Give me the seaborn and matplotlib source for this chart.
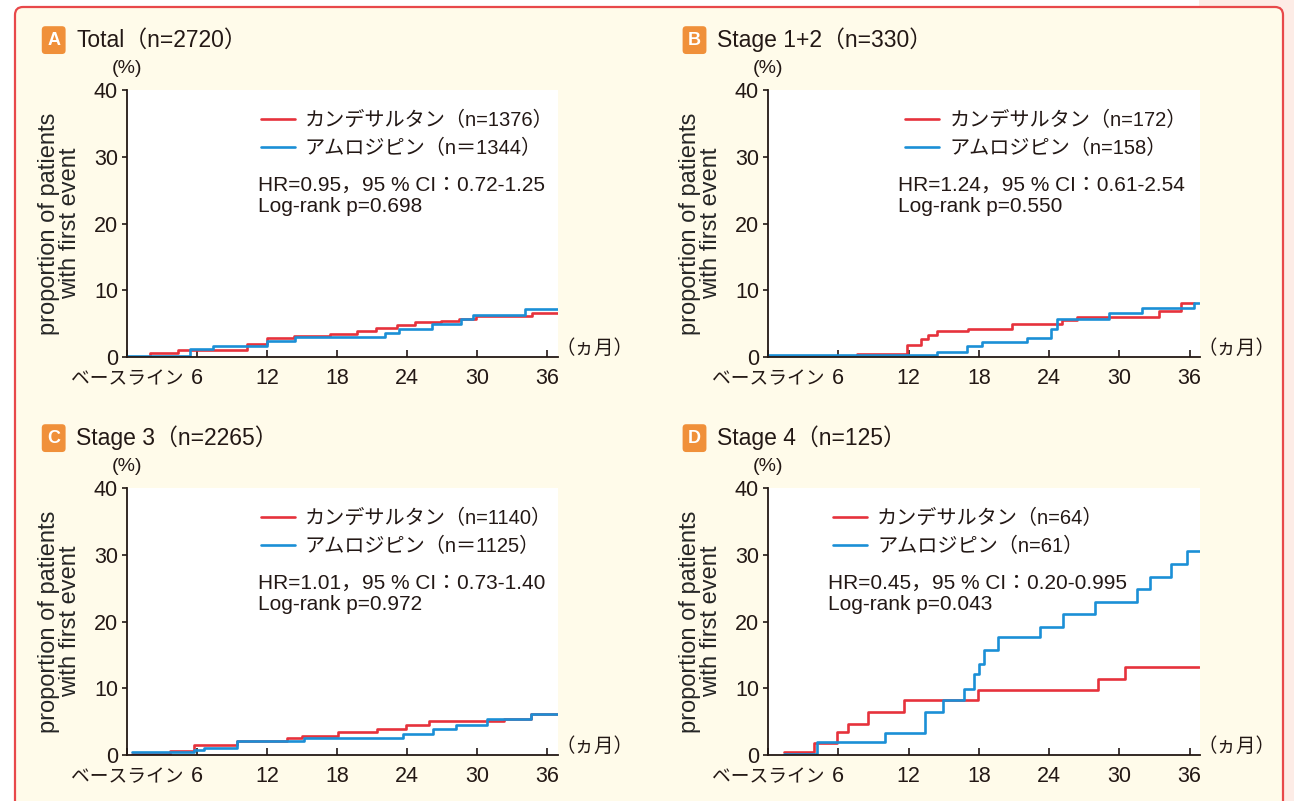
import pandas as pd
import matplotlib
matplotlib.use('Agg')
import matplotlib.pyplot as plt
from matplotlib.patches import FancyBboxPatch, Rectangle
from matplotlib.transforms import ScaledTranslation
import seaborn as sns

# cumulative incidence (%), months from baseline
a_cand_t = [0, 2.0, 4.4, 10.3, 12.0, 14.3, 17.4, 19.7, 21.3, 23.1, 24.7, 26.9, 28.4, 29.9, 34.7, 36.9]
a_cand_p = [0, 0.6, 1.1, 1.9, 2.8, 3.2, 3.5, 3.9, 4.3, 4.8, 5.2, 5.4, 5.7, 6.2, 6.6, 6.6]
a_amlo_t = [0, 5.4, 7.4, 12.0, 14.4, 22.1, 23.3, 26.1, 28.6, 29.6, 34.1, 36.9]
a_amlo_p = [0.1, 1.2, 1.6, 2.4, 3.0, 3.6, 4.2, 4.9, 5.7, 6.3, 7.2, 7.2]

b_cand_t = [0, 7.6, 11.9, 13.1, 13.7, 14.4, 17.1, 20.8, 25.1, 26.4, 33.4, 35.3, 36.4]
b_cand_p = [0, 0.5, 1.75, 2.75, 3.25, 3.9, 4.25, 4.95, 5.5, 6.0, 6.85, 8.15, 8.15]
b_amlo_t = [0, 14.4, 17.0, 18.3, 22.1, 24.2, 24.7, 29.1, 31.9, 36.4, 36.8]
b_amlo_p = [0.35, 0.75, 1.65, 2.25, 2.9, 4.25, 5.65, 6.6, 7.35, 8.15, 8.15]

c_cand_t = [0.4, 3.7, 5.7, 9.4, 13.7, 15.0, 18.1, 21.4, 23.9, 25.9, 32.3, 34.6, 36.9]
c_cand_p = [0.15, 0.65, 1.55, 2.1, 2.5, 2.9, 3.4, 3.95, 4.45, 5.1, 5.45, 6.2, 6.2]
c_amlo_t = [0.4, 5.7, 6.6, 9.4, 15.2, 23.6, 26.2, 28.2, 30.8, 34.6, 36.9]
c_amlo_p = [0.5, 0.75, 1.05, 2.1, 2.5, 3.2, 3.9, 4.5, 5.45, 6.2, 6.2]

d_cand_t = [1.4, 3.95, 5.9, 6.85, 8.5, 11.6, 17.9, 28.2, 30.5, 36.8]
d_cand_p = [0.4, 1.8, 3.4, 4.7, 6.5, 8.25, 9.75, 11.45, 13.25, 13.25]
d_amlo_t = [1.4, 4.2, 10.0, 13.4, 14.9, 16.7, 17.6, 18.0, 18.4, 19.6, 23.2, 25.2, 27.9, 31.5, 32.6, 34.4, 35.8, 36.9]
d_amlo_p = [0.1, 2.0, 3.3, 6.5, 8.25, 9.85, 12.1, 13.6, 15.7, 17.7, 19.2, 21.2, 23.0, 24.8, 26.6, 28.6, 30.6, 30.6]

letters = ['A', 'B', 'C', 'D']
titles = ['Total（n=2720）', 'Stage 1+2（n=330）', 'Stage 3（n=2265）', 'Stage 4（n=125）']
cand_labels = ['カンデサルタン（n=1376）', 'カンデサルタン（n=172）', 'カンデサルタン（n=1140）', 'カンデサルタン（n=64）']
amlo_labels = ['アムロジピン（n＝1344）', 'アムロジピン（n=158）', 'アムロジピン（n＝1125）', 'アムロジピン（n=61）']
stats = ['HR=0.95，95 % CI：0.72-1.25\nLog-rank p=0.698',
         'HR=1.24，95 % CI：0.61-2.54\nLog-rank p=0.550',
         'HR=1.01，95 % CI：0.73-1.40\nLog-rank p=0.972',
         'HR=0.45，95 % CI：0.20-0.995\nLog-rank p=0.043']
curves = [(a_cand_t, a_cand_p, a_amlo_t, a_amlo_p),
          (b_cand_t, b_cand_p, b_amlo_t, b_amlo_p),
          (c_cand_t, c_cand_p, c_amlo_t, c_amlo_p),
          (d_cand_t, d_cand_p, d_amlo_t, d_amlo_p)]
xticks = [0, 6, 12, 18, 24, 30, 36]
xticklabels = ['ベースライン', '6', '12', '18', '24', '30', '36']
yticks = [0, 10, 20, 30, 40]

RED = '#E6323C'
BLUE = '#1B8FD6'
ORANGE = '#F0903A'
INK = '#231815'

sns.set_style('ticks')
plt.rcParams['font.family'] = ['Liberation Sans', 'Noto Sans CJK JP']
plt.rcParams['text.color'] = INK

fig = plt.figure(figsize=(12.94, 8.01), dpi=100)
fig.patch.set_facecolor('white')
fig.patches.append(Rectangle((11.99, 0), 0.95, 8.01, transform=fig.dpi_scale_trans,
                             facecolor='#FDECE6', edgecolor='none', zorder=-3))
fig.patches.append(FancyBboxPatch((0.15, -0.3), 12.68, 8.24, transform=fig.dpi_scale_trans,
                                  boxstyle='round,pad=0,rounding_size=0.08',
                                  facecolor='#FFFBEA', edgecolor='#E8484A', linewidth=1.6, zorder=-2))

# axes boxes in figure fractions: left, bottom, width, height
positions = [(0.0981, 0.5543, 0.333, 0.3333), (0.5935, 0.5543, 0.334, 0.3333),
             (0.0981, 0.0574, 0.333, 0.3333), (0.5935, 0.0574, 0.334, 0.3333)]
legend_x = [0.31, 0.317, 0.31, 0.15]
stat_x = [0.304, 0.30, 0.304, 0.139]

for i in range(4):
    ax = fig.add_axes(positions[i])
    ct, cp, at, ap = curves[i]
    df = pd.concat([
        pd.DataFrame({'month': ct, 'pct': cp, 'arm': cand_labels[i]}),
        pd.DataFrame({'month': at, 'pct': ap, 'arm': amlo_labels[i]}),
    ])
    sns.lineplot(data=df, x='month', y='pct', hue='arm', estimator=None,
                 palette=[RED, BLUE], drawstyle='steps-post', linewidth=1.9, ax=ax)

    ax.set_facecolor('white')
    ax.set_xlim(0, 36.9)
    ax.set_ylim(0, 40)
    ax.set_xticks(xticks)
    ax.set_xticklabels(xticklabels)
    ax.set_yticks(yticks)
    ax.set_xlabel('')
    ax.set_ylabel('proportion of patients\nwith first event', fontsize=17, labelpad=9, linespacing=0.95)
    sns.despine(ax=ax)
    for s in ['left', 'bottom']:
        ax.spines[s].set_linewidth(1.3)
        ax.spines[s].set_color(INK)
    ax.tick_params(axis='x', direction='in', length=5, width=1.2, pad=8, labelsize=15.5, colors=INK)
    ax.tick_params(axis='y', direction='out', length=3.5, width=1.2, pad=3, labelsize=15.5, colors=INK)
    base = ax.get_xticklabels()[0]
    base.set_fontsize(13.5)
    base.set_transform(base.get_transform() + ScaledTranslation(0, -2 / 72, fig.dpi_scale_trans))

    ax.legend(loc='upper left', bbox_to_anchor=(legend_x[i], 0.922), frameon=False, fontsize=14.5,
              handlelength=1.7, handletextpad=0.5, labelspacing=0.42, borderpad=0, borderaxespad=0)
    ax.text(stat_x[i], 0.68, stats[i], transform=ax.transAxes, fontsize=15,
            va='top', ha='left', linespacing=1.2)

    ax.text(0.0, 1.082, '(%)', transform=ax.transAxes, fontsize=14, ha='center', va='center')
    ax.text(0.994, 0.03, '（ヵ月）', transform=ax.transAxes, fontsize=14, ha='left', va='center')
    ax.text(-0.17, 1.187, letters[i], transform=ax.transAxes, fontsize=13, color='white',
            fontweight='bold', ha='center', va='center',
            bbox=dict(boxstyle='round,pad=0.3,rounding_size=0.2', facecolor=ORANGE, edgecolor='none'))
    ax.text(-0.118, 1.187, titles[i], transform=ax.transAxes, fontsize=16.5, ha='left', va='center')

fig.savefig('out.png', dpi=100, facecolor=fig.get_facecolor())
